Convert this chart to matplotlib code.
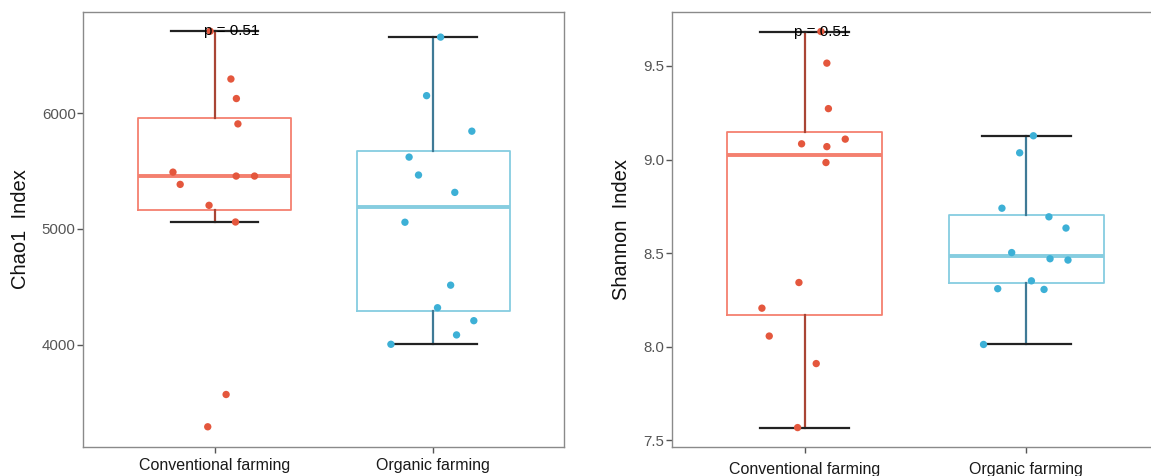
import matplotlib
matplotlib.use("Agg")
import matplotlib.pyplot as plt
from matplotlib.ticker import FormatStrFormatter

plt.rcParams['font.family'] = ['Liberation Sans', 'DejaVu Sans']

# ---- data ----
groups = ["Conventional farming", "Organic farming"]

chao1_conv = [6709, 6296, 6127, 5908, 5491, 5385, 5457, 5457, 5204, 5060, 3569, 3290]
chao1_conv_jit = [-0.02, 0.075, 0.10, 0.107, -0.19, -0.157, 0.099, 0.183, -0.025, 0.096, 0.053, -0.031]
chao1_org = [6658, 6152, 5845, 5621, 5466, 5316, 5058, 4514, 4319, 4207, 4084, 4003]
chao1_org_jit = [0.034, -0.03, 0.177, -0.11, -0.067, 0.099, -0.129, 0.08, 0.02, 0.186, 0.107, -0.193]

shannon_conv = [9.684, 9.515, 9.272, 9.084, 9.069, 9.109, 8.984, 8.343, 8.206, 8.057, 7.910, 7.568]
shannon_conv_jit = [0.073, 0.10, 0.107, -0.014, 0.10, 0.183, 0.096, -0.026, -0.193, -0.16, 0.052, -0.032]
shannon_org = [9.127, 9.036, 8.740, 8.694, 8.634, 8.503, 8.470, 8.463, 8.352, 8.310, 8.306, 8.012]
shannon_org_jit = [0.032, -0.03, -0.11, 0.102, 0.179, -0.066, 0.107, 0.188, 0.023, -0.129, 0.08, -0.193]

p_label = "p = 0.51"

# colours: box edge, whisker, point
box_col = ["#F4806F", "#86CDE0"]
whisk_col = ["#A94535", "#3F7A96"]
pt_col = ["#E4573D", "#3DB0D6"]


def draw_panel(ax, series, jitters, ylabel, ylim, yticks, fmt=None, xpad=4.5):
    for i, (vals, jit) in enumerate(zip(series, jitters)):
        pos = i + 1
        ax.boxplot(vals, positions=[pos], widths=0.7, capwidths=0.4,
                   showfliers=False, patch_artist=False,
                   boxprops=dict(color=box_col[i], linewidth=1.3),
                   medianprops=dict(color=box_col[i], linewidth=2.8),
                   whiskerprops=dict(color=whisk_col[i], linewidth=1.6),
                   capprops=dict(color="#222222", linewidth=1.6))
        ax.scatter([pos + j for j in jit], vals, s=28, color=pt_col[i],
                   edgecolors="none", zorder=4)
    top = max(series[0])
    ax.text(1.077, top, p_label, ha="center", va="center", fontsize=11,
            color="black", zorder=6)
    ax.set_xlim(0.4, 2.6)
    ax.set_ylim(*ylim)
    ax.set_xticks([1, 2])
    ax.set_xticklabels(groups, fontsize=11.5, color="#1a1a1a")
    ax.set_yticks(yticks)
    if fmt:
        ax.yaxis.set_major_formatter(FormatStrFormatter(fmt))
    ax.tick_params(axis="y", labelsize=10.8, labelcolor="#555555",
                   color="#555555", length=4.5, width=1, pad=1)
    ax.tick_params(axis="x", length=4, width=1, color="#555555", pad=xpad)
    ax.set_ylabel(ylabel, fontsize=14.5, color="#111111", labelpad=8.5)
    for s in ax.spines.values():
        s.set_color("#8a8a8a")
        s.set_linewidth(1.0)


fig = plt.figure(figsize=(11.51, 4.76), dpi=100)
ax1 = fig.add_axes([0.0724, 0.0616, 0.4179, 0.9139])
ax2 = fig.add_axes([0.5836, 0.0616, 0.4236, 0.9139])

draw_panel(ax1, [chao1_conv, chao1_org], [chao1_conv_jit, chao1_org_jit],
           "Chao1  Index", (3118, 6878), [4000, 5000, 6000])
draw_panel(ax2, [shannon_conv, shannon_org], [shannon_conv_jit, shannon_org_jit],
           "Shannon  Index", (7.466, 9.790), [7.5, 8.0, 8.5, 9.0, 9.5], fmt="%.1f",
           xpad=7)

fig.savefig("out.png", dpi=100)
